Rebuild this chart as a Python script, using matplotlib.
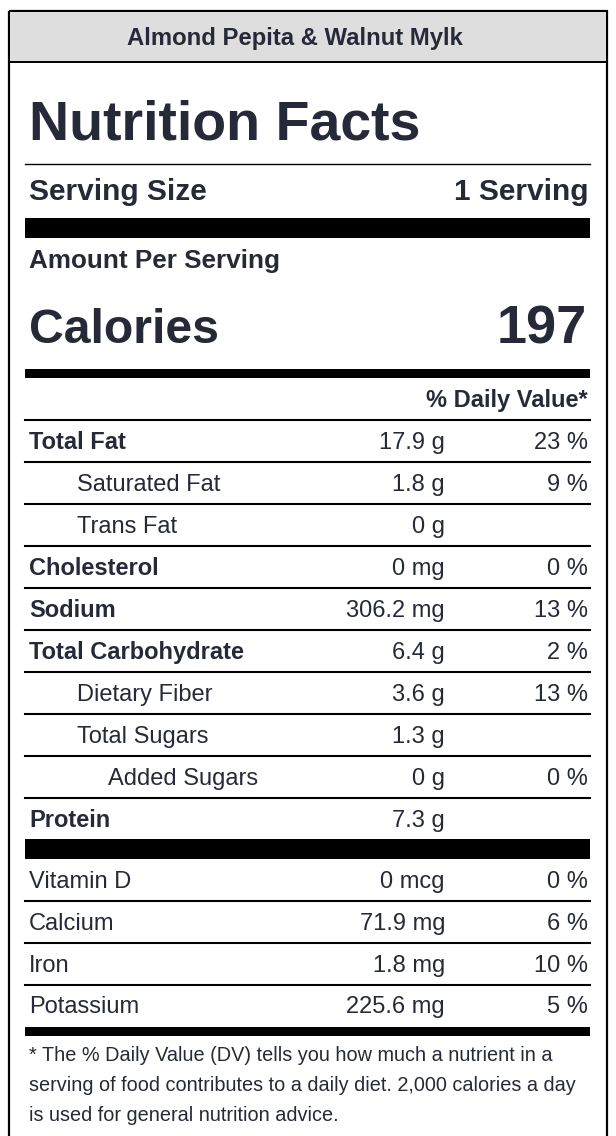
import matplotlib
matplotlib.use("Agg")
import matplotlib.pyplot as plt

# label data
product_name = "Almond Pepita & Walnut Mylk"
serving_size = "1 Serving"
calories = "197"

nutrients = ["Total Fat", "Saturated Fat", "Trans Fat", "Cholesterol", "Sodium",
             "Total Carbohydrate", "Dietary Fiber", "Total Sugars", "Added Sugars", "Protein"]
amounts = ["17.9 g", "1.8 g", "0 g", "0 mg", "306.2 mg", "6.4 g", "3.6 g", "1.3 g", "0 g", "7.3 g"]
daily_pct = ["23 %", "9 %", "", "0 %", "13 %", "2 %", "13 %", "", "0 %", ""]
indent_level = [0, 1, 1, 0, 0, 0, 1, 1, 2, 0]
is_bold = [True, False, False, True, True, True, False, False, False, True]

vitamins = ["Vitamin D", "Calcium", "Iron", "Potassium"]
vit_amounts = ["0 mcg", "71.9 mg", "1.8 mg", "225.6 mg"]
vit_pct = ["0 %", "6 %", "10 %", "5 %"]

footnote = ["* The % Daily Value (DV) tells you how much a nutrient in a",
            "serving of food contributes to a daily diet. 2,000 calories a day",
            "is used for general nutrition advice."]

plt.rcParams['font.family'] = ['Liberation Sans', 'DejaVu Sans']
txt = '#262a38'

fig = plt.figure(figsize=(6.16, 11.36), dpi=100)
ax = fig.add_axes([0, 0, 1, 1])
ax.set_xlim(0, 616)
ax.set_ylim(1136, 0)
ax.axis('off')

left, right = 25, 590
x_text = 29
x_amt = 445
x_pct = 588
row_fs = 17

# outer box + grey header
ax.add_patch(plt.Rectangle((9, 11), 598, 1140, fill=False, lw=1.6, ec='black'))
ax.add_patch(plt.Rectangle((10, 12), 596, 50, fc='#dedede', ec='none'))
ax.plot([9, 607], [62, 62], color='black', lw=1.4)
ax.text(295, 45, product_name, ha='center', va='baseline', fontsize=17.2, fontweight='bold', color=txt)

ax.text(x_text, 140, "Nutrition Facts", fontsize=40, fontweight='bold', color=txt, va='baseline')
ax.plot([left, right], [164, 164], color='black', lw=1)
ax.text(x_text, 200, "Serving Size", fontsize=21.5, fontweight='bold', color=txt, va='baseline')
ax.text(x_pct, 200, serving_size, fontsize=21.5, fontweight='bold', color=txt, va='baseline', ha='right')
ax.add_patch(plt.Rectangle((left, 218), right - left, 20, fc='black', ec='none'))

ax.text(x_text, 268, "Amount Per Serving", fontsize=18.8, fontweight='bold', color=txt, va='baseline')
ax.text(x_text, 343, "Calories", fontsize=34.7, fontweight='bold', color=txt, va='baseline')
ax.text(x_pct - 1, 343, calories, fontsize=39, fontweight='bold', color=txt, va='baseline', ha='right')
ax.add_patch(plt.Rectangle((left, 369), right - left, 9, fc='black', ec='none'))

ax.text(x_pct, 407, "% Daily Value*", fontsize=row_fs, fontweight='bold', color=txt, va='baseline', ha='right')
ax.plot([left, right], [420, 420], color='black', lw=1.5)

row_h = 42
y0 = 441
for i, name in enumerate(nutrients):
    yc = y0 + i * row_h
    w = 'bold' if is_bold[i] else 'normal'
    ax.text(x_text + 48 * indent_level[i] - (17 if indent_level[i] == 2 else 0), yc + 8, name,
            fontsize=row_fs, fontweight=w, color=txt, va='baseline')
    ax.text(x_amt, yc + 8, amounts[i], fontsize=row_fs, color=txt, va='baseline', ha='right')
    if daily_pct[i]:
        ax.text(x_pct, yc + 8, daily_pct[i], fontsize=row_fs, color=txt, va='baseline', ha='right')
    if i < len(nutrients) - 1:
        ax.plot([left, right], [yc + 21, yc + 21], color='black', lw=1.5)

ax.add_patch(plt.Rectangle((left, 839), right - left, 20, fc='black', ec='none'))

v0 = 880
for i, name in enumerate(vitamins):
    yc = v0 + i * 41.8
    ax.text(x_text, yc + 8, name, fontsize=row_fs, color=txt, va='baseline')
    ax.text(x_amt, yc + 8, vit_amounts[i], fontsize=row_fs, color=txt, va='baseline', ha='right')
    ax.text(x_pct, yc + 8, vit_pct[i], fontsize=row_fs, color=txt, va='baseline', ha='right')
    if i < len(vitamins) - 1:
        ax.plot([left, right], [yc + 21, yc + 21], color='black', lw=1.5)

ax.add_patch(plt.Rectangle((left, 1027), right - left, 9, fc='black', ec='none'))

for i, line in enumerate(footnote):
    ax.text(x_text, 1061 + i * 30, line, fontsize=14.3, color=txt, va='baseline')

fig.savefig("out.png", dpi=100)
